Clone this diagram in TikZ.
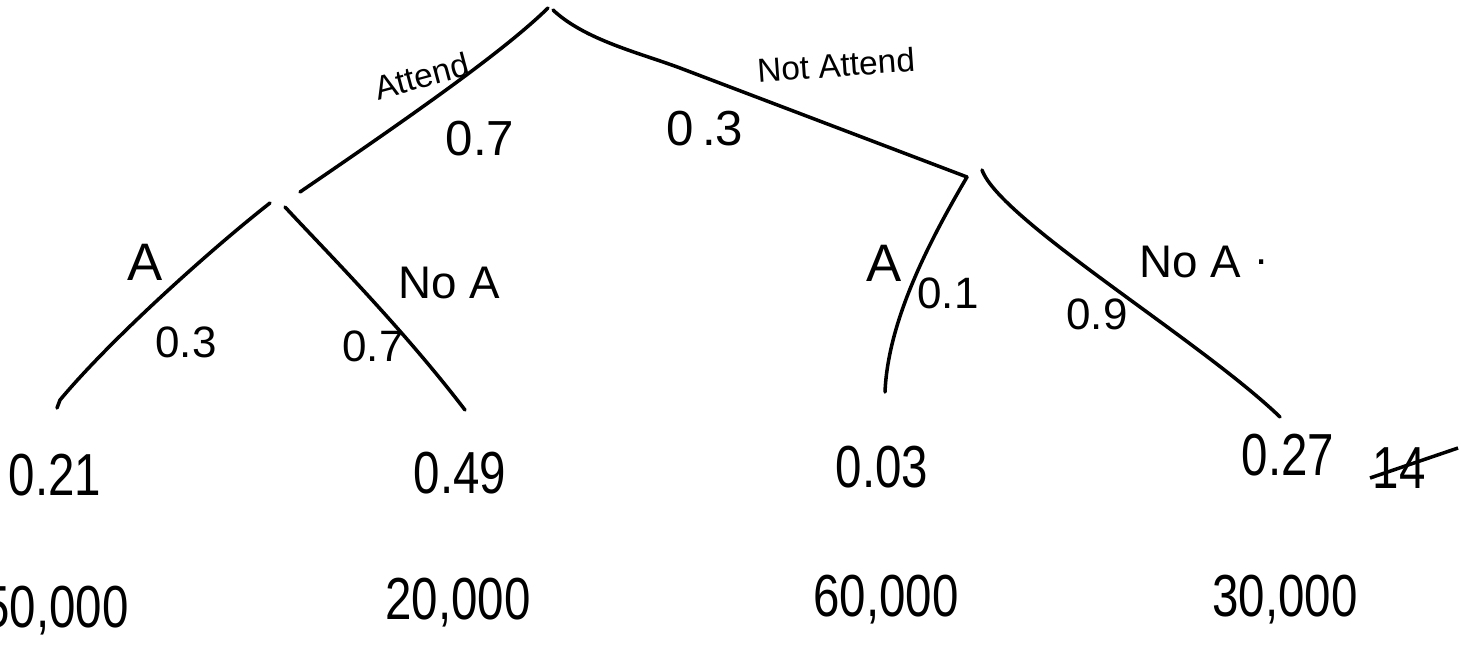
\documentclass[tikz,border=0pt]{standalone}
\usepackage{fontspec}
\setmainfont{Liberation Sans}
\newcommand{\tallnum}[1]{\scalebox{1}[1.25]{#1}}
\begin{document}
\begin{tikzpicture}[x=0.01cm,y=-0.01cm,
  branch/.style={line width=1pt,line cap=round,line join=round},
  small/.style={inner sep=0pt,font=\fontsize{9.5}{11}\selectfont},
  lbl/.style={inner sep=0pt,font=\fontsize{13}{15}\selectfont},
  biglbl/.style={inner sep=0pt,font=\fontsize{15}{17}\selectfont},
  probtop/.style={inner sep=0pt,font=\fontsize{14}{16}\selectfont},
  prob/.style={inner sep=0pt,font=\fontsize{12.5}{14}\selectfont},
  leaf/.style={inner sep=0pt,font=\fontsize{13.5}{16}\selectfont}]
\useasboundingbox (0,0) rectangle (1461,664);
\clip (0,0) rectangle (1461,664);
% branch end points
\coordinate (rootL) at (548,8);
\coordinate (rootR) at (553,10);
\coordinate (att) at (300,192);
\coordinate (bend) at (680,68);
\coordinate (natt) at (967,177);
\coordinate (attA) at (270,203);
\coordinate (attN) at (285,207);
\coordinate (nattN) at (982,170);
\coordinate (leaf1) at (60,400);
\coordinate (hook1) at (57,408);
\coordinate (leaf2) at (465,410);
\coordinate (leaf3) at (885,392);
\coordinate (leaf4) at (1280,417);
% branches
\draw[branch] (rootL) .. controls (505,50) and (420,110) .. (att);
\draw[branch] (rootR) .. controls (585,40) and (640,53) .. (bend) -- (natt);
\draw[branch] (attA) .. controls (210,250) and (110,340) .. (leaf1) -- (hook1);
\draw[branch] (attN) .. controls (320,245) and (400,325) .. (leaf2);
\draw[branch] (natt) .. controls (930,240) and (888,320) .. (leaf3);
\draw[branch] (nattN) .. controls (1000,220) and (1200,340) .. (leaf4);
% branch labels
\node[small,rotate=15] (tAttend) at (422,76) {Attend};
\node[small,rotate=4] (tNotAttend) at (836,65) {Not Attend};
\node[probtop] (p07) at (480,139) {0.7};
\node[probtop] (p03) at (705,129) {0\,.3};
\node[biglbl] (tA1) at (145,262) {A};
\node[prob] (q03) at (186,342) {0.3};
\node[lbl] (tNoA1) at (449,283) {No A};
\node[prob] (q07) at (373,346) {0.7};
\node[biglbl] (tA2) at (884,263) {A};
\node[prob] (q01) at (948,293) {0.1};
\node[lbl] (tNoA2) at (1190,262) {No A};
\node[prob] (dot) at (1262,262) {.};
\node[prob] (q09) at (1097,314) {0.9};
% leaf probabilities
\node[leaf] (r1) at (55,475) {\tallnum{0.21}};
\node[leaf] (r2) at (460,473) {\tallnum{0.49}};
\node[leaf] (r3) at (882,467) {\tallnum{0.03}};
\node[leaf] (r4) at (1288,455) {\tallnum{0.27}};
\node[leaf] (r4x) at (1399,468) {\tallnum{14}};
\coordinate (s1) at (1370,478);
\coordinate (s2) at (1458,448);
\draw[line width=1pt] (s1) -- (s2);
% payoffs
\node[leaf] (v1) at (56,611) {\tallnum{50,000}};
\node[leaf] (v2) at (458,603) {\tallnum{20,000}};
\node[leaf] (v3) at (886,600) {\tallnum{60,000}};
\node[leaf] (v4) at (1285,600) {\tallnum{30,000}};
\end{tikzpicture}
\end{document}
